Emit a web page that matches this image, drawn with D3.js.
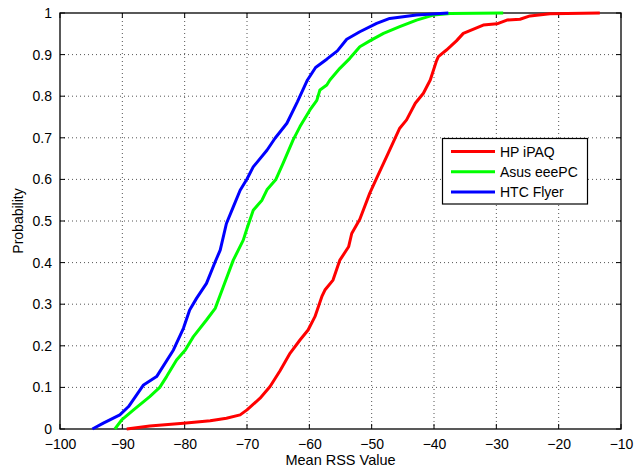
<!DOCTYPE html>
<html>
<head>
<meta charset="utf-8">
<script src="https://cdn.jsdelivr.net/npm/d3@7"></script>
<style>
  body { margin: 0; background: #fff; }
  text { font-family: "Liberation Sans", Arial, sans-serif; }
</style>
</head>
<body>
<script>
var seriesNames = ["HP iPAQ", "Asus eeePC", "HTC Flyer"];
var seriesColors = ["#ff0000", "#00ff00", "#0000ff"];

// HP iPAQ
var hpX = [-89.3, -85.6, -80.2, -75.9, -73.3, -71.1, -70.0, -67.9, -66.3, -64.7, -63.1, -61.5, -60.2, -59.1, -58.0, -57.5, -56.2, -55.1, -53.7, -53.2, -51.9, -50.3, -49.2, -47.6, -45.5, -44.4, -43.0, -41.7, -40.6, -39.6, -39.3, -38.0, -37.4, -36.4, -35.3, -32.1, -29.9, -28.3, -26.2, -24.6, -21.4, -18.7, -13.4];
var hpY = [0, 0.007, 0.014, 0.02, 0.026, 0.034, 0.046, 0.074, 0.102, 0.14, 0.182, 0.214, 0.238, 0.27, 0.318, 0.334, 0.358, 0.406, 0.438, 0.47, 0.504, 0.567, 0.603, 0.655, 0.723, 0.743, 0.783, 0.807, 0.839, 0.885, 0.895, 0.911, 0.919, 0.933, 0.951, 0.971, 0.974, 0.983, 0.985, 0.993, 0.998, 0.999, 1];

// Asus eeePC
var asusX = [-91.2, -90.1, -88.2, -85.6, -84.0, -82.9, -81.3, -79.9, -78.6, -76.5, -75.1, -73.8, -72.2, -70.6, -70.0, -69.0, -67.6, -66.8, -65.4, -64.2, -62.6, -61.5, -59.9, -58.8, -58.3, -57.2, -56.7, -55.1, -53.5, -51.9, -50.3, -48.1, -45.5, -42.8, -40.1, -37.4, -28.9];
var asusY = [0, 0.022, 0.046, 0.078, 0.1, 0.126, 0.166, 0.19, 0.222, 0.262, 0.29, 0.342, 0.406, 0.454, 0.482, 0.526, 0.55, 0.575, 0.599, 0.639, 0.695, 0.727, 0.767, 0.79, 0.815, 0.827, 0.839, 0.867, 0.891, 0.919, 0.933, 0.951, 0.967, 0.983, 0.995, 0.999, 1];

// HTC Flyer
var htcX = [-94.8, -93.05, -90.4, -89.0, -86.6, -84.5, -81.8, -80.2, -79.2, -78.1, -76.5, -75.1, -74.3, -73.3, -72.2, -71.1, -70.0, -69.0, -66.8, -65.5, -63.6, -61.9, -60.3, -59.0, -57.2, -55.5, -54.0, -51.9, -49.2, -47.1, -42.8, -37.7];
var htcY = [0, 0.014, 0.034, 0.054, 0.106, 0.126, 0.19, 0.242, 0.286, 0.314, 0.35, 0.402, 0.43, 0.494, 0.534, 0.574, 0.601, 0.63, 0.67, 0.699, 0.735, 0.787, 0.839, 0.869, 0.889, 0.909, 0.937, 0.955, 0.975, 0.987, 0.995, 1];

var xTicks = [-100, -90, -80, -70, -60, -50, -40, -30, -20, -10];
var yTicks = [0, 0.1, 0.2, 0.3, 0.4, 0.5, 0.6, 0.7, 0.8, 0.9, 1];

var w = 643, h = 472;
var plotL = 60, plotR = 621, plotT = 13, plotB = 429;

var x = d3.scaleLinear().domain([-100, -10]).range([plotL, plotR]);
var y = d3.scaleLinear().domain([0, 1]).range([plotB, plotT]);

var svg = d3.select("body").append("svg")
    .attr("width", w)
    .attr("height", h);

// grid
svg.append("g").selectAll("line")
    .data(xTicks.slice(1, -1))
    .enter().append("line")
    .attr("x1", function (d) { return x(d); })
    .attr("x2", function (d) { return x(d); })
    .attr("y1", plotT).attr("y2", plotB)
    .attr("stroke", "#555")
    .attr("stroke-width", 1)
    .attr("stroke-dasharray", "1,3");

svg.append("g").selectAll("line")
    .data(yTicks.slice(1, -1))
    .enter().append("line")
    .attr("y1", function (d) { return y(d); })
    .attr("y2", function (d) { return y(d); })
    .attr("x1", plotL).attr("x2", plotR)
    .attr("stroke", "#555")
    .attr("stroke-width", 1)
    .attr("stroke-dasharray", "1,3");

// axes (ticks point inward, labels outside)
var xAxis = d3.axisBottom(x).tickValues(xTicks).tickSize(0).tickPadding(10).tickFormat(d3.format("d"));
var gx = svg.append("g").attr("transform", "translate(0," + plotB + ")").call(xAxis);
gx.select(".domain").remove();
gx.selectAll("text").attr("font-size", 14).attr("fill", "#000")
    .attr("font-family", "'Liberation Sans', Arial, sans-serif");

var yAxis = d3.axisLeft(y).tickValues(yTicks).tickSize(0).tickPadding(8)
    .tickFormat(function (d) { return d === 0 || d === 1 ? String(d) : d3.format(".1f")(d); });
var gy = svg.append("g").attr("transform", "translate(" + plotL + ",0)").call(yAxis);
gy.select(".domain").remove();
gy.selectAll("text").attr("font-size", 14).attr("fill", "#000")
    .attr("font-family", "'Liberation Sans', Arial, sans-serif");

var ticks = svg.append("g").attr("stroke", "#000").attr("stroke-width", 1);
xTicks.forEach(function (d) {
    ticks.append("line").attr("x1", x(d)).attr("x2", x(d)).attr("y1", plotB).attr("y2", plotB - 5);
    ticks.append("line").attr("x1", x(d)).attr("x2", x(d)).attr("y1", plotT).attr("y2", plotT + 5);
});
yTicks.forEach(function (d) {
    ticks.append("line").attr("y1", y(d)).attr("y2", y(d)).attr("x1", plotL).attr("x2", plotL + 5);
    ticks.append("line").attr("y1", y(d)).attr("y2", y(d)).attr("x1", plotR).attr("x2", plotR - 5);
});

svg.append("rect")
    .attr("x", plotL).attr("y", plotT)
    .attr("width", plotR - plotL).attr("height", plotB - plotT)
    .attr("fill", "none").attr("stroke", "#000").attr("stroke-width", 1.3);

// curves
var series = [
    { xs: hpX, ys: hpY },
    { xs: asusX, ys: asusY },
    { xs: htcX, ys: htcY }
];
var line = d3.line()
    .x(function (d) { return x(d[0]); })
    .y(function (d) { return y(d[1]); });

series.forEach(function (s, i) {
    svg.append("path")
        .datum(d3.zip(s.xs, s.ys))
        .attr("d", line)
        .attr("fill", "none")
        .attr("stroke", seriesColors[i])
        .attr("stroke-width", 3)
        .attr("stroke-linejoin", "round");
});

// axis labels
svg.append("text")
    .attr("x", (plotL + plotR) / 2).attr("y", 465)
    .attr("text-anchor", "middle")
    .attr("font-size", 14.5)
    .text("Mean RSS Value");

svg.append("text")
    .attr("transform", "translate(23," + ((plotT + plotB) / 2) + ")rotate(-90)")
    .attr("text-anchor", "middle")
    .attr("font-size", 14)
    .text("Probability");

// legend
var lg = svg.append("g");
lg.append("rect")
    .attr("x", 442.5).attr("y", 138.5)
    .attr("width", 145).attr("height", 65.5)
    .attr("fill", "#fff").attr("stroke", "#000").attr("stroke-width", 1.2);
seriesNames.forEach(function (name, i) {
    var yy = 151.5 + i * 20.3;
    lg.append("line")
        .attr("x1", 451).attr("x2", 495)
        .attr("y1", yy).attr("y2", yy)
        .attr("stroke", seriesColors[i]).attr("stroke-width", 3);
    lg.append("text")
        .attr("x", 500).attr("y", yy + 5)
        .attr("font-size", 14)
        .text(name);
});
</script>
</body>
</html>
